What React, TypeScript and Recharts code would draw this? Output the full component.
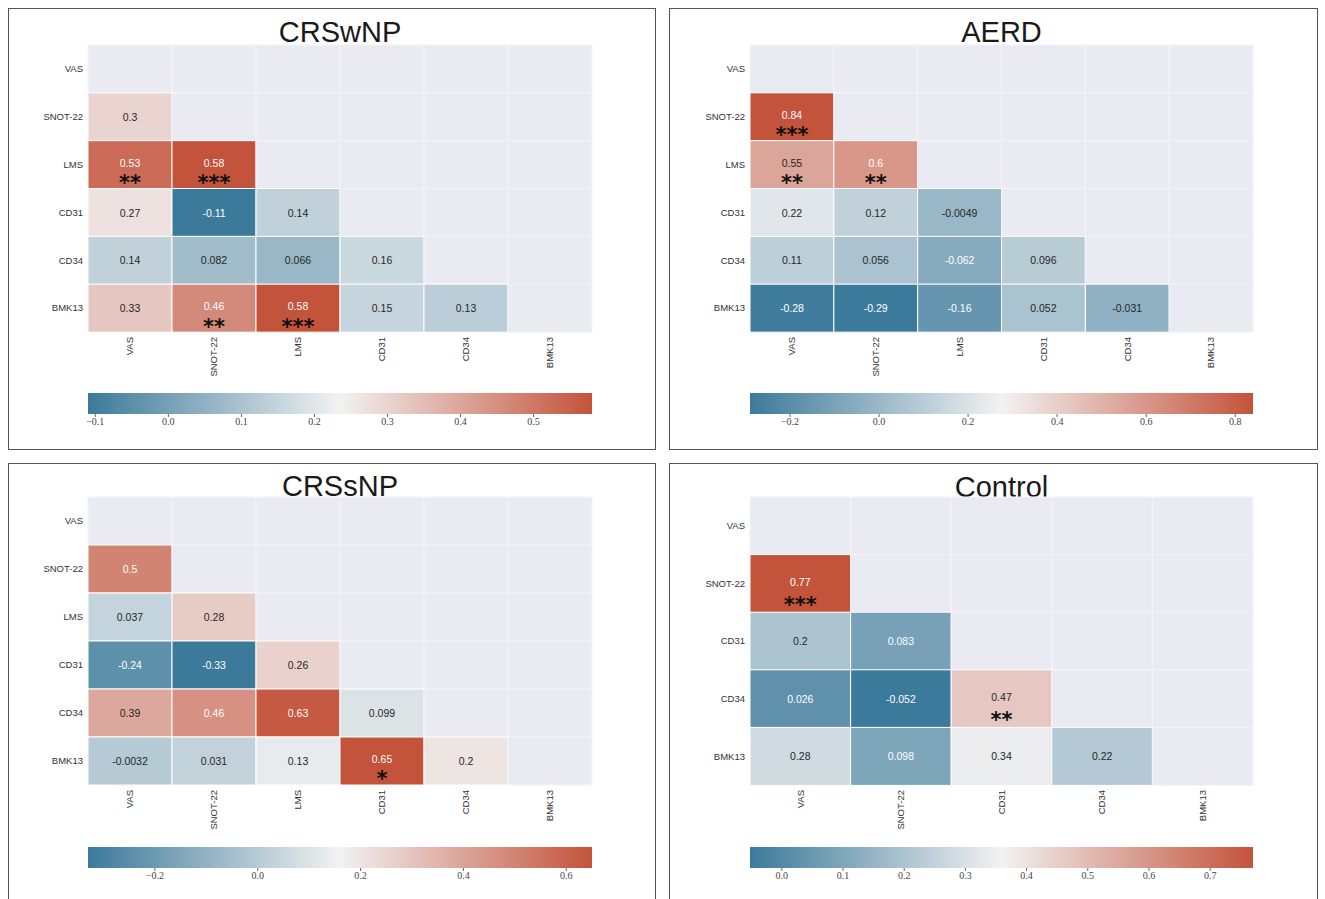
import React from 'react';
import { BarChart, Bar, XAxis, YAxis } from 'recharts';

// variables and lower-triangle correlations, row by row (row i holds cols 0..i-1)
const crswnpVars = ['VAS', 'SNOT-22', 'LMS', 'CD31', 'CD34', 'BMK13'];
const crswnpCorr = [
  [],
  [0.3],
  [0.53, 0.58],
  [0.27, -0.11, 0.14],
  [0.14, 0.082, 0.066, 0.16],
  [0.33, 0.46, 0.58, 0.15, 0.13],
];
const crswnpStars = [
  [],
  [''],
  ['**', '***'],
  ['', '', ''],
  ['', '', '', ''],
  ['', '**', '***', '', ''],
];
const crswnpTicks = [-0.1, 0, 0.1, 0.2, 0.3, 0.4, 0.5];

const aerdVars = ['VAS', 'SNOT-22', 'LMS', 'CD31', 'CD34', 'BMK13'];
const aerdCorr = [
  [],
  [0.84],
  [0.55, 0.6],
  [0.22, 0.12, -0.0049],
  [0.11, 0.056, -0.062, 0.096],
  [-0.28, -0.29, -0.16, 0.052, -0.031],
];
const aerdStars = [
  [],
  ['***'],
  ['**', '**'],
  ['', '', ''],
  ['', '', '', ''],
  ['', '', '', '', ''],
];
const aerdTicks = [-0.2, 0, 0.2, 0.4, 0.6, 0.8];

const crssnpVars = ['VAS', 'SNOT-22', 'LMS', 'CD31', 'CD34', 'BMK13'];
const crssnpCorr = [
  [],
  [0.5],
  [0.037, 0.28],
  [-0.24, -0.33, 0.26],
  [0.39, 0.46, 0.63, 0.099],
  [-0.0032, 0.031, 0.13, 0.65, 0.2],
];
const crssnpStars = [
  [],
  [''],
  ['', ''],
  ['', '', ''],
  ['', '', '', ''],
  ['', '', '', '*', ''],
];
const crssnpTicks = [-0.2, 0, 0.2, 0.4, 0.6];

const controlVars = ['VAS', 'SNOT-22', 'CD31', 'CD34', 'BMK13'];
const controlCorr = [
  [],
  [0.77],
  [0.2, 0.083],
  [0.026, -0.052, 0.47],
  [0.28, 0.098, 0.34, 0.22],
];
const controlStars = [
  [],
  ['***'],
  ['', ''],
  ['', '', '**'],
  ['', '', '', ''],
];
const controlTicks = [0, 0.1, 0.2, 0.3, 0.4, 0.5, 0.6, 0.7];

// diverging palette (blue - light gray - red), linear in RGB like seaborn
const NEG = [60, 122, 155];
const MID = [242, 242, 242];
const POS = [196, 83, 59];
const MASK = '#eaeaf2';
const FONT = '"Liberation Sans", Arial, sans-serif';

function cmap(t: number): number[] {
  const u = Math.max(0, Math.min(1, t));
  const a = u < 0.5 ? NEG : MID;
  const b = u < 0.5 ? MID : POS;
  const f = u < 0.5 ? u / 0.5 : (u - 0.5) / 0.5;
  return a.map((v, k) => Math.round(v + (b[k] - v) * f));
}
const hex = (c: number[]) => '#' + c.map((v) => v.toString(16).padStart(2, '0')).join('');
function lum(c: number[]) {
  const l = c.map((v) => {
    const s = v / 255;
    return s <= 0.03928 ? s / 12.92 : Math.pow((s + 0.055) / 1.055, 2.4);
  });
  return 0.2126 * l[0] + 0.7152 * l[1] + 0.0722 * l[2];
}
const fmtTick = (v: number) => (v < 0 ? '\u2212' + Math.abs(v).toFixed(1) : v.toFixed(1));

type Box = { left: number; top: number; width: number; height: number };
type Plot = { left: number; right: number; top: number; bottom: number };

function HeatPanel({ id, title, vars, corr, stars, ticks, box, plot, cb, titleY }: {
  id: string; title: string; vars: string[]; corr: number[][]; stars: string[][]; ticks: number[];
  box: Box; plot: Plot; cb: { top: number; bottom: number }; titleY: number;
}) {
  const n = vars.length;
  const vals = corr.flat();
  const vmin = Math.min(...vals);
  const vmax = Math.max(...vals);
  const data = vars.map((name, i) => {
    const row: any = { name, row: i };
    vars.forEach((_, j) => { row['c' + j] = 1; });
    return row;
  });
  const chartH = plot.bottom - box.top + 56;
  const left = plot.left - box.left;
  const right = box.left + box.width - plot.right;

  const cellShape = (j: number) => (p: any) => {
    const i = p.payload.row;
    const masked = j >= i;
    const v = masked ? null : corr[i][j];
    const c = v == null ? null : cmap((v - vmin) / (vmax - vmin));
    const cx = p.x + p.width / 2;
    const cy = p.y + p.height / 2;
    const st = masked ? '' : stars[i][j];
    return (
      <g>
        <rect x={p.x} y={p.y} width={p.width} height={p.height} fill={c ? hex(c) : MASK}
          stroke={c ? '#fff' : '#f4f4f9'} strokeWidth={1} />
        {c && (
          <text x={cx} y={cy - (st ? 2 : 0)} textAnchor="middle" dominantBaseline="central" fontSize={10.5}
            fontFamily={FONT} fill={lum(c) > 0.408 ? '#262626' : '#ffffff'}>{String(v)}</text>
        )}
        {st && (
          <text x={cx} y={cy + 0.3 * p.height + 11} textAnchor="middle" fontSize={21} fontWeight="bold"
            fontFamily='"DejaVu Sans", sans-serif' fill="#111">{st}</text>
        )}
      </g>
    );
  };

  const XTick = ({ x, y, payload }: any) => (
    <text x={x} y={y} transform={`rotate(-90 ${x} ${y})`} textAnchor="end" dy="0.35em"
      fontSize={9.5} fill="#333" fontFamily={FONT}>{vars[Math.floor(payload.value)]}</text>
  );

  return (
    <>
      <div style={{ position: 'absolute', left: box.left, top: box.top, width: box.width, height: box.height,
        border: '1px solid #555', boxSizing: 'border-box' }} />
      <div style={{ position: 'absolute', left: plot.left, width: plot.right - plot.left, top: titleY - 24.5,
        lineHeight: '29px', fontSize: 29, fontFamily: FONT, color: '#1a1a1a', textAlign: 'center' }}>{title}</div>
      <div style={{ position: 'absolute', left: box.left, top: box.top }}>
        <BarChart layout="vertical" width={box.width} height={chartH} data={data} barCategoryGap={0} barGap={0}
          margin={{ top: plot.top - box.top, right, left: 0, bottom: 6 }}>
          <XAxis type="number" domain={[0, n]} ticks={vars.map((_, j) => j + 0.5)} interval={0} height={50}
            tickSize={0} tickMargin={5} axisLine={false} tickLine={false} tick={<XTick />} />
          <YAxis type="category" dataKey="name" width={left} tickSize={0} tickMargin={5} axisLine={false}
            tickLine={false} tick={{ fontSize: 9.5, fill: '#333', fontFamily: FONT }} />
          {vars.map((_, j) => (
            <Bar key={j} dataKey={'c' + j} stackId="m" isAnimationActive={false} shape={cellShape(j)} />
          ))}
        </BarChart>
      </div>
      <div style={{ position: 'absolute', left: box.left, top: cb.top }}>
        <BarChart layout="vertical" width={box.width} height={cb.bottom - cb.top + 25}
          data={[{ name: 'cb', range: [vmin, vmax] }]} barCategoryGap={0}
          margin={{ top: 0, right, left, bottom: 0 }}>
          <defs>
            <linearGradient id={'grad-' + id} x1="0" y1="0" x2="1" y2="0">
              <stop offset="0" stopColor={hex(NEG)} />
              <stop offset="0.5" stopColor={hex(MID)} />
              <stop offset="1" stopColor={hex(POS)} />
            </linearGradient>
          </defs>
          <XAxis type="number" domain={[vmin, vmax]} ticks={ticks} interval={0} height={25} tickSize={3}
            tickMargin={1} axisLine={false} tickLine={{ stroke: '#666' }} tickFormatter={fmtTick}
            tick={{ fontSize: 10, fill: '#444', fontFamily: '"Liberation Serif", serif' }} />
          <YAxis type="category" dataKey="name" hide />
          <Bar dataKey="range" fill={`url(#grad-${id})`} isAnimationActive={false} />
        </BarChart>
      </div>
    </>
  );
}

export default function App() {
  return (
    <div style={{ position: 'absolute', left: 0, top: 0, width: 1325, height: 899, background: '#fff', overflow: 'hidden' }}>
      <HeatPanel id="crswnp" title="CRSwNP" vars={crswnpVars} corr={crswnpCorr} stars={crswnpStars} ticks={crswnpTicks}
        box={{ left: 8, top: 8, width: 648, height: 442 }} plot={{ left: 88, right: 592, top: 45, bottom: 332 }}
        cb={{ top: 393, bottom: 414 }} titleY={42} />
      <HeatPanel id="aerd" title="AERD" vars={aerdVars} corr={aerdCorr} stars={aerdStars} ticks={aerdTicks}
        box={{ left: 669, top: 8, width: 649, height: 442 }} plot={{ left: 750, right: 1253, top: 45, bottom: 332 }}
        cb={{ top: 393, bottom: 414 }} titleY={42} />
      <HeatPanel id="crssnp" title="CRSsNP" vars={crssnpVars} corr={crssnpCorr} stars={crssnpStars} ticks={crssnpTicks}
        box={{ left: 8, top: 463, width: 648, height: 445 }} plot={{ left: 88, right: 592, top: 497, bottom: 785 }}
        cb={{ top: 847, bottom: 868 }} titleY={496} />
      <HeatPanel id="control" title="Control" vars={controlVars} corr={controlCorr} stars={controlStars} ticks={controlTicks}
        box={{ left: 669, top: 463, width: 649, height: 445 }} plot={{ left: 750, right: 1253, top: 497, bottom: 785 }}
        cb={{ top: 847, bottom: 868 }} titleY={497} />
    </div>
  );
}
